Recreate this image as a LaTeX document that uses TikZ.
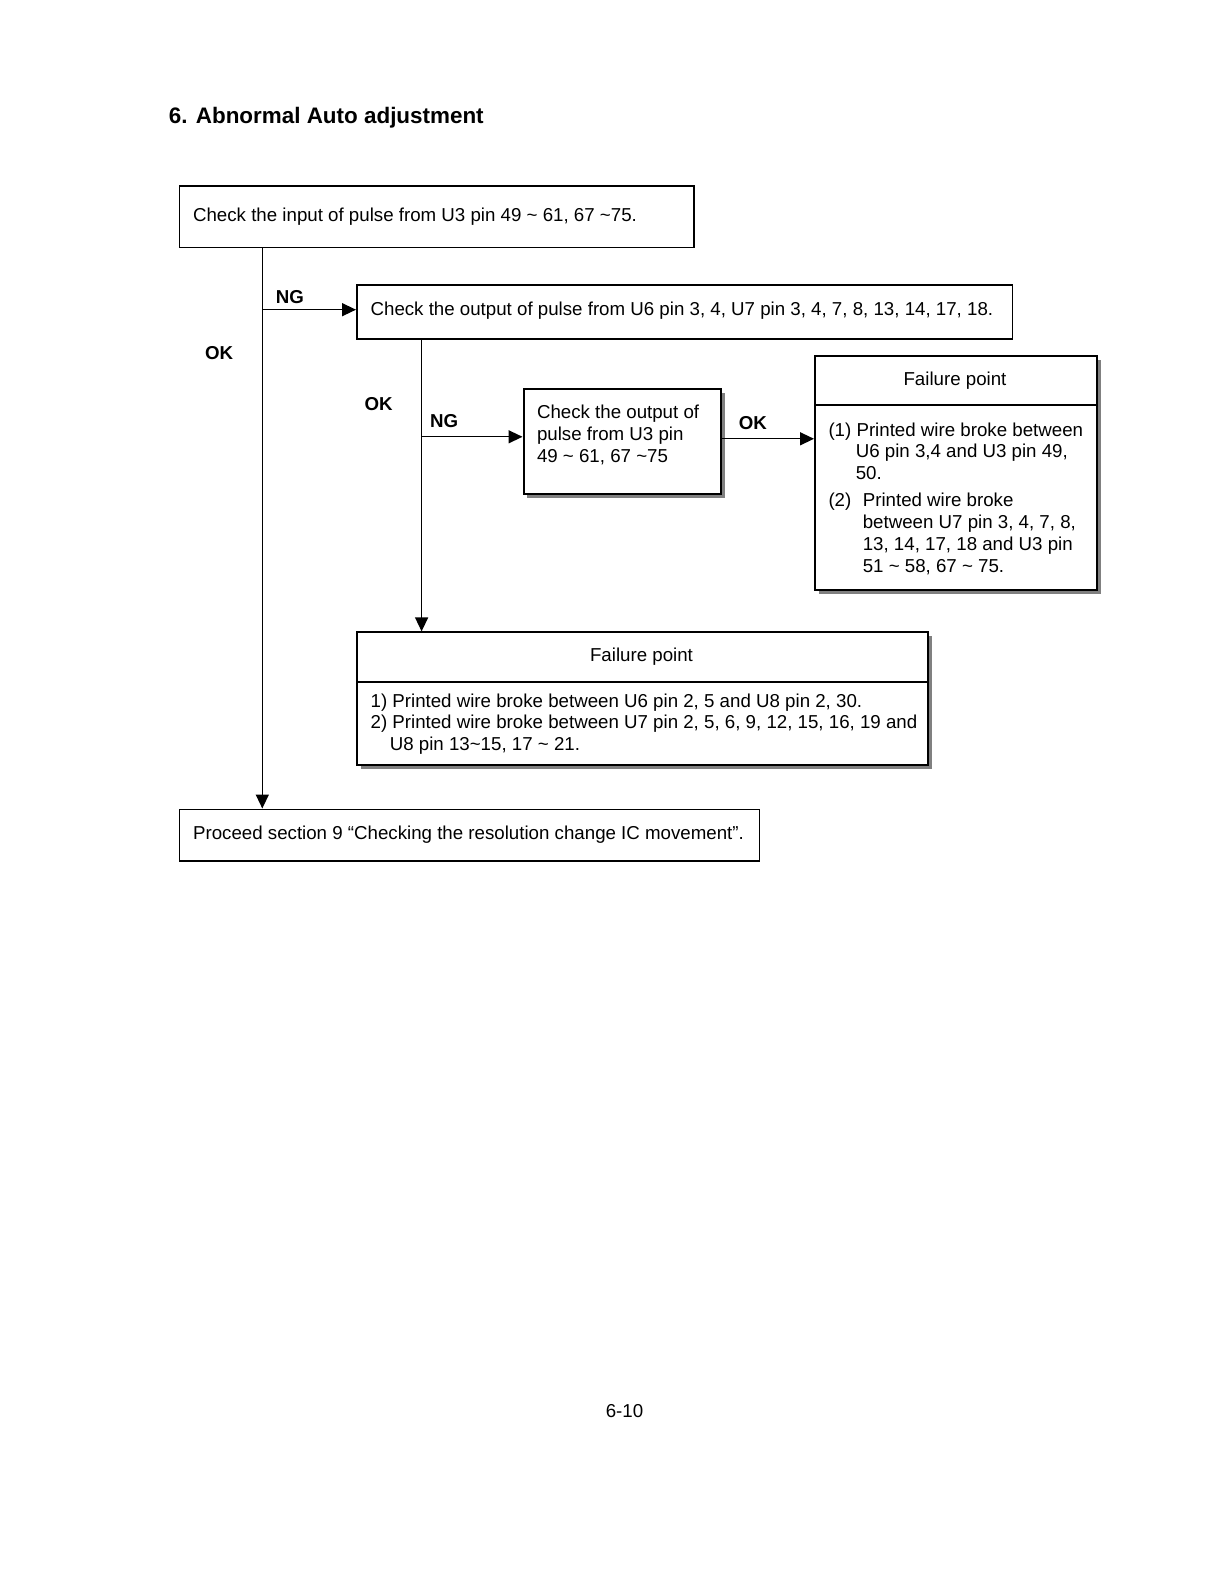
\documentclass[tikz,border=0pt]{standalone}
\usepackage{fontspec}
\setmainfont{Liberation Sans}
\usetikzlibrary{arrows.meta,shadows}

\newcommand\flowfont{\fontsize{9.38}{10.9}\selectfont}

\tikzset{
  box/.style={draw, line width=0.8pt, rectangle, anchor=north west, inner sep=0pt},
  shadebox/.style={box, line width=1pt, fill=white,
    drop shadow={shadow xshift=2pt, shadow yshift=-2pt, fill=black!50, opacity=1}},
  txt/.style={anchor=base west, inner sep=0pt, font=\flowfont},
  flag/.style={anchor=base west, inner sep=0pt, font=\flowfont\bfseries},
  arr/.style={line width=0.7pt, -{Triangle[length=7pt,width=6.5pt]}},
}

\begin{document}
\begin{tikzpicture}[x=0.5017pt, y=-0.5017pt]

% page (pixel grid of the scanned sheet)
\fill[white] (0,0) rectangle (1219,1582);
\useasboundingbox (0,0) rectangle (1219,1582);

% ---------------------------
% Heading
% ---------------------------
\node[anchor=base west, inner sep=0pt, font=\fontsize{11.25}{13}\selectfont\bfseries]
  (title) at (168.5,124) {6. Abnormal Auto adjustment};

% ---------------------------
% Check boxes
% ---------------------------
\node[box, minimum width=258.1pt, minimum height=30.9pt] (inU3) at (178.5,185) {};
\node[txt] (inU3txt) at (192.7,221.5) {Check the input of pulse from U3 pin 49 \textasciitilde{} 61, 67 \textasciitilde75.};

\node[box, minimum width=329pt, minimum height=26.8pt] (outU6) at (356,284.5) {};
\node[txt] (outU6txt) at (370.2,315.3) {Check the output of pulse from U6 pin 3, 4, U7 pin 3, 4, 7, 8, 13, 14, 17, 18.};

\node[shadebox, minimum width=99.2pt, minimum height=52.7pt] (outU3) at (522.5,388.3) {};
\foreach \ln [count=\i] in {Check the output of, pulse from U3 pin, {49 \textasciitilde{} 61, 67 \textasciitilde75}}
  \node[txt] (outU3l\i) at (536.6,397+21.7*\i) {\ln};

\node[box, minimum width=291pt, minimum height=25.8pt] (proceed) at (178.5,808.5) {};
\node[txt] (proceedtxt) at (192.7,839) {Proceed section 9 “Checking the resolution change IC movement”.};

% ---------------------------
% Failure point (right)
% ---------------------------
\node[shadebox, minimum width=141.7pt, minimum height=117.2pt] (fpA) at (814,355) {};
\draw[line width=1pt] ([yshift=-25.3pt]fpA.north west) -- ([yshift=-25.3pt]fpA.north east);
\node[txt, anchor=base] (fpAhead) at (955,385.3) {Failure point};
\node[txt] (fpA1) at (828.1,436.8) {(1) Printed wire broke between};
\node[txt] (fpA2) at (855.4,458) {U6 pin 3,4 and U3 pin 49,};
\node[txt] (fpA3) at (855.4,479.1) {50.};
\node[txt] (fpAnum) at (828.1,506.4) {(2)};
\foreach \ln [count=\i from 0] in {Printed wire broke, {between U7 pin 3, 4, 7, 8,},
    {13, 14, 17, 18 and U3 pin}, {51 \textasciitilde{} 58, 67 \textasciitilde{} 75.}}
  \node[txt] (fpAl\i) at (862.4,506.4+21.9*\i) {\ln};

% ---------------------------
% Failure point (bottom)
% ---------------------------
\node[shadebox, minimum width=286.5pt, minimum height=66.3pt] (fpB) at (356,631.4) {};
\draw[line width=1pt] ([yshift=-25.3pt]fpB.north west) -- ([yshift=-25.3pt]fpB.north east);
\node[txt, anchor=base] (fpBhead) at (641.5,661.7) {Failure point};
\node[txt] (fpB1) at (370.2,707.1) {1) Printed wire broke between U6 pin 2, 5 and U8 pin 2, 30.};
\node[txt] (fpB2) at (370.2,728.3) {2) Printed wire broke between U7 pin 2, 5, 6, 9, 12, 15, 16, 19 and};
\node[txt] (fpB3) at (389.4,750.5) {U8 pin 13\textasciitilde15, 17 \textasciitilde{} 21.};

% ---------------------------
% Flow lines
% ---------------------------
\coordinate (trunkA) at (262.3,0);
\coordinate (trunkB) at (421.6,0);
\coordinate (rowNGa) at (0,309.7);
\coordinate (rowNGb) at (0,436.8);
\coordinate (rowOK)  at (0,438.8);

\draw[arr] (inU3.south -| trunkA) -- (proceed.north -| trunkA);
\draw[arr] (trunkA |- rowNGa) -- (rowNGa -| outU6.west);
\draw[arr] (outU6.south -| trunkB) -- (fpB.north -| trunkB);
\draw[arr] (trunkB |- rowNGb) -- (rowNGb -| outU3.west);
\draw[arr] (outU3.east |- rowOK) -- (rowOK -| fpA.west);

% branch labels
\node[flag] (ngA) at (275.4,303.6) {NG};
\node[flag] (okA) at (204.8,359.1) {OK};
\node[flag] (okB) at (364.1,410.5) {OK};
\node[flag] (ngB) at (429.7,427.7) {NG};
\node[flag] (okC) at (738.4,429.7) {OK};

% page number
\node[txt, anchor=base] (page) at (624.5,1417) {6-10};

\end{tikzpicture}
\end{document}
